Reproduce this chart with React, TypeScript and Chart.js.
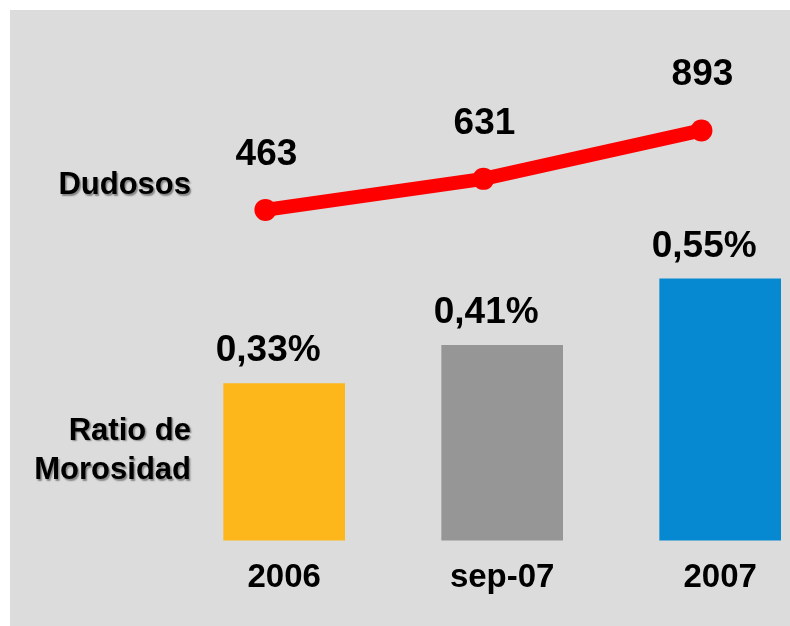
import React, { useEffect, useRef } from "react";
import { Chart, registerables } from "chart.js";

Chart.register(...registerables);

// ---- data ----
const CATEGORIES = ["2006", "sep-07", "2007"];
const RATIO_MOROSIDAD = [0.33, 0.41, 0.55]; // %
const DUDOSOS = [463, 631, 893];
const BAR_COLORS = ["#FDB71A", "#969696", "#0789D2"];
const ROW_LABEL_LINE = ["Dudosos"];
const ROW_LABEL_BARS = ["Ratio de", "Morosidad"];

// ---- styles ----
const FONT = '"Liberation Sans", Arial, Helvetica, sans-serif';
const LINE_X_SHIFT = -0.086;

const fmtPct = (v: number) => v.toFixed(2).replace(".", ",") + "%";

const labelsPlugin = {
  id: "valueLabels",
  afterDatasetsDraw(chart: any) {
    const ctx = chart.ctx;
    ctx.save();
    ctx.fillStyle = "#000";
    ctx.font = `bold 37px ${FONT}`;
    ctx.textAlign = "center";
    ctx.textBaseline = "alphabetic";
    const barMeta = chart.getDatasetMeta(0);
    barMeta.data.forEach((el: any, i: number) => {
      ctx.fillText(fmtPct(RATIO_MOROSIDAD[i]), el.x - 16, el.y - 22);
    });
    const lineMeta = chart.getDatasetMeta(1);
    lineMeta.data.forEach((el: any, i: number) => {
      ctx.fillText(String(DUDOSOS[i]), el.x + 1, el.y - 45);
    });

    ctx.font = `bold 31px ${FONT}`;
    ctx.textAlign = "right";
    ctx.shadowColor = "rgba(0,0,0,0.4)";
    ctx.shadowOffsetX = 1.5;
    ctx.shadowOffsetY = 1.5;
    ctx.shadowBlur = 1.5;
    ROW_LABEL_LINE.forEach((t, i) => ctx.fillText(t, 181, 184 + i * 39.5));
    ROW_LABEL_BARS.forEach((t, i) => ctx.fillText(t, 181, 429.5 + i * 39.5));
    ctx.restore();
  },
};

export default function App() {
  const ref = useRef<HTMLCanvasElement | null>(null);

  useEffect(() => {
    if (!ref.current) return;
    const chart = new Chart(ref.current, {
      type: "bar",
      data: {
        datasets: [
          {
            type: "bar",
            data: RATIO_MOROSIDAD.map((v, i) => ({ x: i, y: v })),
            backgroundColor: BAR_COLORS,
            borderWidth: 0,
            barThickness: 121,
            yAxisID: "y",
            order: 2,
          } as any,
          {
            type: "line",
            data: DUDOSOS.map((v, i) => ({ x: i + LINE_X_SHIFT, y: v })),
            borderColor: "#FF0000",
            backgroundColor: "#FF0000",
            borderWidth: 14,
            pointRadius: 11,
            pointBackgroundColor: "#FF0000",
            pointBorderWidth: 0,
            tension: 0,
            clip: false,
            yAxisID: "y2",
            order: 1,
          } as any,
        ],
      },
      options: {
        animation: false,
        responsive: false,
        maintainAspectRatio: false,
        layout: { autoPadding: false, padding: { top: 0, left: 0, right: 0, bottom: 9.8 } },
        plugins: {
          legend: { display: false },
          tooltip: { enabled: false },
        },
        scales: {
          x: {
            type: "linear",
            offset: false,
            min: -1.2577,
            max: 2.3203,
            grid: { display: false, drawTicks: false },
            border: { display: false },
            afterBuildTicks: (s: any) => {
              s.ticks = CATEGORIES.map((_, i) => ({ value: i }));
            },
            ticks: {
              padding: 18,
              autoSkip: false,
              maxRotation: 0,
              color: "#000",
              font: { family: FONT, size: 33, weight: "bold", lineHeight: 1.2 },
              callback: (_v: any, i: number) => CATEGORIES[i],
            },
          },
          y: { display: false, min: 0, max: 1.1144 },
          y2: { display: false, min: -1327, max: 1545 },
        },
      } as any,
      plugins: [labelsPlugin],
    });
    return () => chart.destroy();
  }, []);

  return (
    <div
      style={{
        position: "fixed",
        left: 10,
        top: 10,
        width: 780,
        height: 616,
        background: "#DCDCDC",
      }}
    >
      <canvas ref={ref} width={780} height={616} style={{ display: "block" }} />
    </div>
  );
}
